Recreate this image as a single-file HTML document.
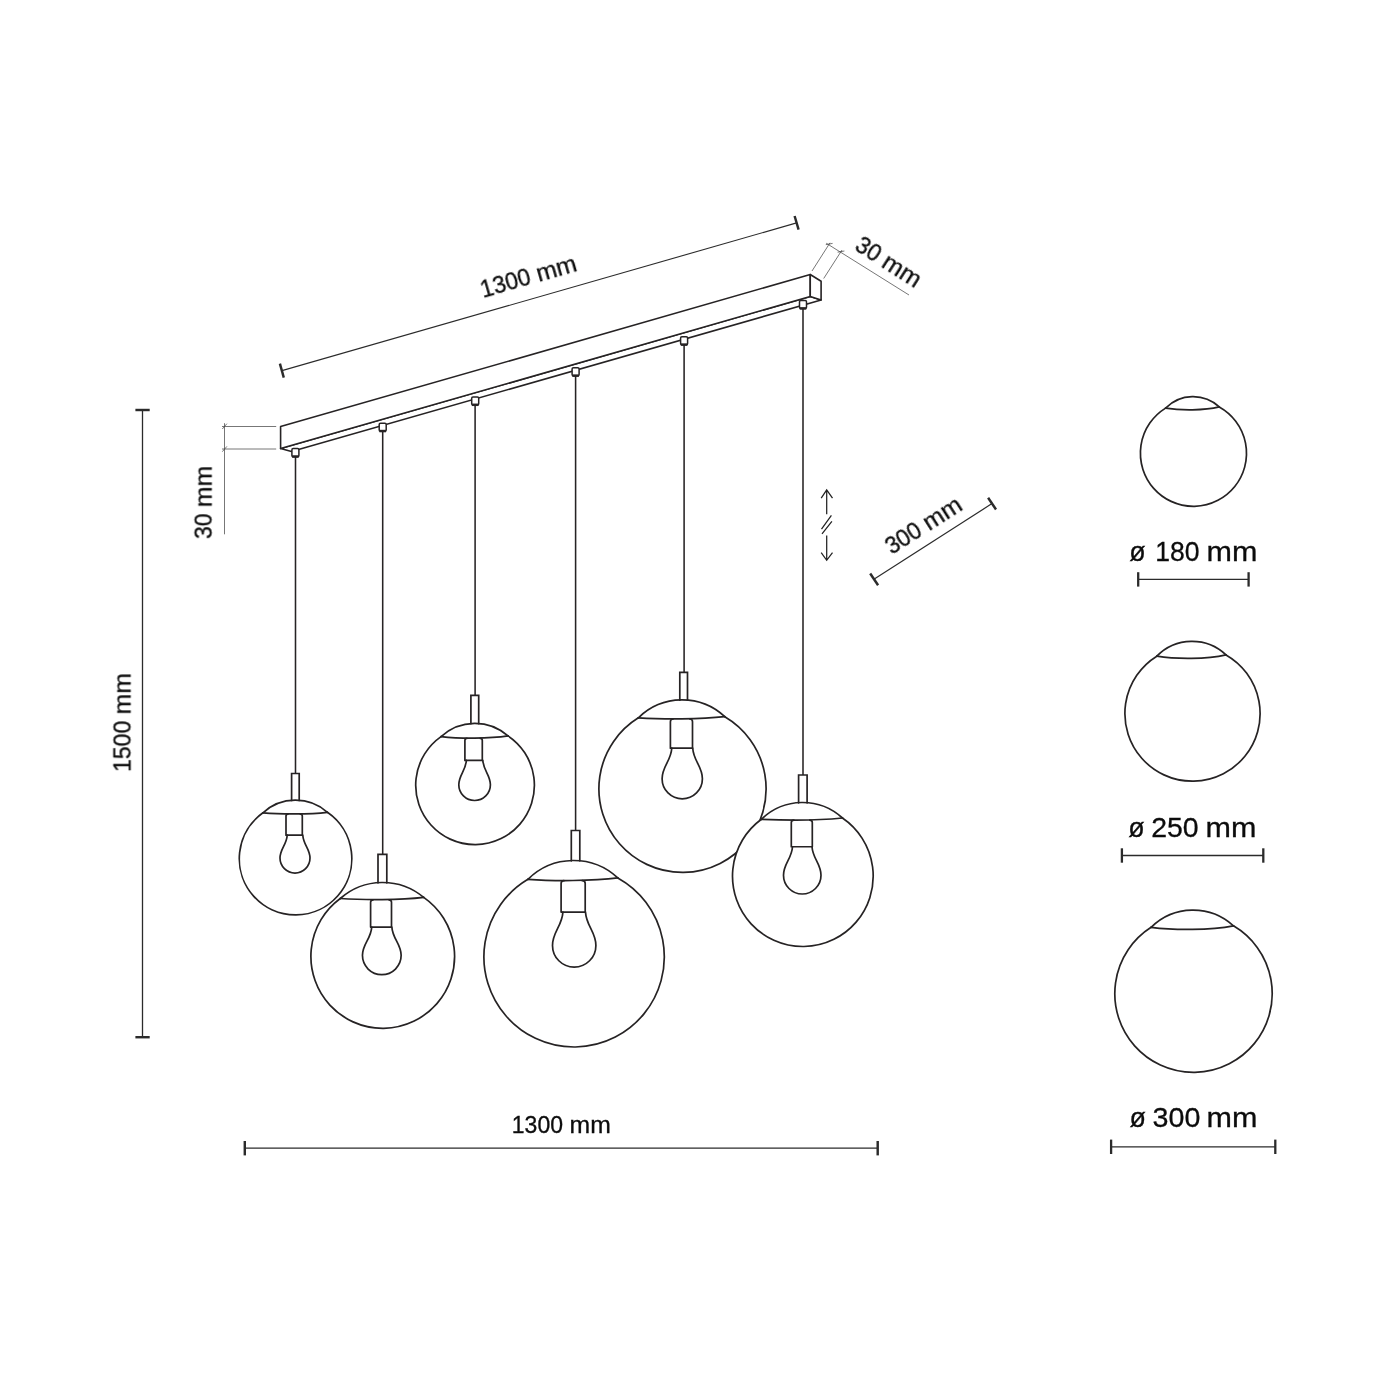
<!DOCTYPE html>
<html lang="en"><head><meta charset="utf-8"><title>Pendant lamp dimensions</title>
<style>
html,body{margin:0;padding:0;background:#fff}
svg{display:block}
text{font-family:"Liberation Sans",sans-serif;fill:#0a0a0a;stroke:#0a0a0a;stroke-width:.3px}
</style></head><body>
<svg width="1400" height="1400" viewBox="0 0 1400 1400">
<rect width="1400" height="1400" fill="#fff"/>

<g fill="none" stroke="#262324" stroke-width="1.55">
<line x1="295.5" y1="456" x2="295.5" y2="773.5"/>
<line x1="382.7" y1="431" x2="382.7" y2="854.4"/>
<line x1="475.1" y1="405" x2="475.1" y2="695.4"/>
<line x1="575.6" y1="376" x2="575.6" y2="830.5"/>
<line x1="684.1" y1="345" x2="684.1" y2="672.3"/>
<line x1="803.0" y1="309" x2="803.0" y2="775.0"/>
</g>
<g fill="#fff" stroke="#262324" stroke-width="1.6" stroke-linejoin="round" stroke-linecap="round">
<path d="M280.6,448.6 L291.5,451.5 L821.1,300 L810.25,296.5 Z"/>
<path d="M280.6,426.6 L810.25,274.5 L810.25,296.5 L280.6,448.6 Z"/>
<path d="M810.25,274.5 L821.1,281.25 L821.1,300 L810.25,296.5 Z"/>
</g>
<g fill="#fff" stroke="#262324" stroke-width="1.5">
<rect x="291.90" y="448.60" width="7.0" height="8.1" rx="1.3"/>
<line x1="292.10" y1="456.50" x2="298.70" y2="456.50" stroke-width="2.5" stroke-linecap="butt"/>
<rect x="379.20" y="423.15" width="7.0" height="8.1" rx="1.3"/>
<line x1="379.40" y1="431.05" x2="386.00" y2="431.05" stroke-width="2.5" stroke-linecap="butt"/>
<rect x="471.70" y="396.90" width="7.0" height="8.1" rx="1.3"/>
<line x1="471.90" y1="404.80" x2="478.50" y2="404.80" stroke-width="2.5" stroke-linecap="butt"/>
<rect x="572.10" y="367.73" width="7.0" height="8.1" rx="1.3"/>
<line x1="572.30" y1="375.63" x2="578.90" y2="375.63" stroke-width="2.5" stroke-linecap="butt"/>
<rect x="680.60" y="336.69" width="7.0" height="8.1" rx="1.3"/>
<line x1="680.80" y1="344.59" x2="687.40" y2="344.59" stroke-width="2.5" stroke-linecap="butt"/>
<rect x="799.50" y="300.50" width="7.0" height="8.1" rx="1.3"/>
<line x1="799.70" y1="308.40" x2="806.30" y2="308.40" stroke-width="2.5" stroke-linecap="butt"/>
</g>
<g fill="none" stroke="#262324" stroke-width="1.7" stroke-linecap="round" stroke-linejoin="round">
<path fill="#fff" d="M327.42,812.30 A56.25,56.25 0 1 1 262.96,812.80"/>
<path fill="#fff" d="M262.96,812.80 A48.23,48.23 0 0 1 327.42,812.30"/>
<path d="M262.96,812.80 C281.01,814.35 309.37,814.35 327.42,812.30"/>
<path d="M291.60,800.50 V773.50 H299.20 V800.50" stroke-linejoin="miter"/>
<path d="M286.00,835.20 V816.06 Q286.00,814.10 287.96,814.10 M300.34,814.10 Q302.30,814.10 302.30,816.06 V835.20 M286.00,835.20 H302.30"/>
<path d="M287.20,835.20 C286.60,844.82 280.00,848.94 280.00,858.10 A15.00,15.00 0 0 0 310.00,858.10 C310.00,848.94 303.40,844.82 302.80,835.20"/>
<path fill="#fff" d="M423.68,897.40 A71.85,71.85 0 1 1 340.27,898.50"/>
<path fill="#fff" d="M340.27,898.50 A64.01,64.01 0 0 1 423.68,897.40"/>
<path d="M340.27,898.50 C363.63,900.15 400.33,900.15 423.68,897.40"/>
<path d="M378.00,882.80 V854.40 H386.80 V882.80" stroke-linejoin="miter"/>
<path d="M370.60,927.10 V902.31 Q370.60,899.80 373.11,899.80 M388.99,899.80 Q391.50,899.80 391.50,902.31 V927.10 M370.60,927.10 H391.50"/>
<path d="M371.74,927.10 C370.96,938.97 362.45,944.05 362.45,955.35 A19.35,19.35 0 0 0 401.15,955.35 C401.15,944.05 392.64,938.97 391.86,927.10"/>
<path fill="#fff" d="M508.02,735.90 A59.35,59.35 0 1 1 441.06,736.60"/>
<path fill="#fff" d="M441.06,736.60 A49.76,49.76 0 0 1 508.02,735.90"/>
<path d="M441.06,736.60 C459.81,738.72 489.27,738.72 508.02,735.90"/>
<path d="M470.90,723.60 V695.40 H478.70 V723.60" stroke-linejoin="miter"/>
<path d="M464.90,760.40 V740.39 Q464.90,738.30 466.99,738.30 M480.21,738.30 Q482.30,738.30 482.30,740.39 V760.40 M464.90,760.40 H482.30"/>
<path d="M466.38,760.40 C465.75,770.61 458.80,774.98 458.80,784.70 A15.80,15.80 0 0 0 490.40,784.70 C490.40,774.98 483.45,770.61 482.82,760.40"/>
<path fill="#fff" d="M617.81,877.90 A90.20,90.20 0 1 1 527.95,879.30"/>
<path fill="#fff" d="M527.95,879.30 A64.82,64.82 0 0 1 617.81,877.90"/>
<path d="M527.95,879.30 C553.11,881.13 592.65,881.13 617.81,877.90"/>
<path d="M571.30,860.80 V830.50 H579.80 V860.80" stroke-linejoin="miter"/>
<path d="M561.10,912.10 V883.59 Q561.10,880.70 563.99,880.70 M582.31,880.70 Q585.20,880.70 585.20,883.59 V912.10 M561.10,912.10 H585.20"/>
<path d="M562.92,912.10 C562.05,926.09 552.50,932.08 552.50,945.40 A21.70,21.70 0 0 0 595.90,945.40 C595.90,932.08 586.35,926.09 585.48,912.10"/>
<path fill="#fff" d="M724.81,716.70 A83.60,83.60 0 1 1 638.36,717.80"/>
<path fill="#fff" d="M638.36,717.80 A62.52,62.52 0 0 1 724.81,716.70"/>
<path d="M638.36,717.80 C662.57,719.32 700.61,719.32 724.81,716.70"/>
<path d="M679.80,700.20 V672.30 H687.50 V700.20" stroke-linejoin="miter"/>
<path d="M670.40,748.20 V721.65 Q670.40,719.00 673.05,719.00 M689.85,719.00 Q692.50,719.00 692.50,721.65 V748.20 M670.40,748.20 H692.50"/>
<path d="M671.77,748.20 C670.97,760.99 662.10,766.47 662.10,778.65 A20.15,20.15 0 0 0 702.40,778.65 C702.40,766.47 693.53,760.99 692.73,748.20"/>
<path fill="#fff" d="M842.44,818.00 A70.35,70.35 0 1 1 761.41,819.30"/>
<path fill="#fff" d="M761.41,819.30 A58.90,58.90 0 0 1 842.44,818.00"/>
<path d="M761.41,819.30 C784.10,820.32 819.75,820.32 842.44,818.00"/>
<path d="M798.60,802.80 V775.00 H807.10 V802.80" stroke-linejoin="miter"/>
<path d="M791.30,846.75 V822.62 Q791.30,820.10 793.82,820.10 M809.78,820.10 Q812.30,820.10 812.30,822.62 V846.75 M791.30,846.75 H812.30"/>
<path d="M792.50,846.75 C791.75,858.72 783.50,863.85 783.50,875.25 A18.75,18.75 0 0 0 821.00,875.25 C821.00,863.85 812.75,858.72 812.00,846.75"/>
</g>
<g fill="none" stroke="#262324" stroke-width="1.7" stroke-linecap="round">
<path d="M1219.26,406.90 A53.05,53.05 0 1 1 1165.60,408.10"/>
<path d="M1165.60,408.10 A38.47,38.47 0 0 1 1219.26,406.90"/>
<path d="M1165.60,408.10 C1180.62,410.57 1204.23,410.57 1219.26,406.90"/>
<path d="M1226.03,654.90 A67.60,67.60 0 1 1 1156.79,656.20"/>
<path d="M1156.79,656.20 A49.42,49.42 0 0 1 1226.03,654.90"/>
<path d="M1156.79,656.20 C1176.18,659.35 1206.64,659.35 1226.03,654.90"/>
<path d="M1233.46,925.80 A78.70,78.70 0 1 1 1151.10,927.30"/>
<path d="M1151.10,927.30 A59.77,59.77 0 0 1 1233.46,925.80"/>
<path d="M1151.10,927.30 C1174.16,930.35 1210.40,930.35 1233.46,925.80"/>
</g>
<g fill="none" stroke="#2b2b2b" stroke-width="1.3">
<line x1="142.5" y1="410" x2="142.5" y2="1037.2"/>
<line x1="244.8" y1="1148.1" x2="877.7" y2="1148.1"/>
<line x1="282" y1="370.6" x2="796.6" y2="222.9" stroke-width="1.1"/>
<line x1="873.9" y1="579.2" x2="992" y2="503.6" stroke-width="1.2"/>
<line x1="1138.2" y1="579.4" x2="1248.6" y2="579.4"/>
<line x1="1121.9" y1="855.5" x2="1263.3" y2="855.5"/>
<line x1="1111.1" y1="1146.8" x2="1275.3" y2="1146.8"/>
</g>
<g fill="none" stroke="#2b2b2b" stroke-width="2.45">
<line x1="135.4" y1="410" x2="149.7" y2="410"/>
<line x1="135.4" y1="1037.2" x2="149.7" y2="1037.2"/>
<line x1="244.8" y1="1141" x2="244.8" y2="1155.4"/>
<line x1="877.7" y1="1141" x2="877.7" y2="1155.4"/>
<line x1="279.9" y1="363.7" x2="283.8" y2="377.6"/>
<line x1="794.6" y1="216.0" x2="798.6" y2="229.7"/>
<line x1="870.2" y1="573.5" x2="878.1" y2="585.2"/>
<line x1="988.1" y1="497.7" x2="996.0" y2="509.5"/>
<line x1="1138.2" y1="572.1999999999999" x2="1138.2" y2="586.6" stroke-width="2.3"/>
<line x1="1248.6" y1="572.1999999999999" x2="1248.6" y2="586.6" stroke-width="2.3"/>
<line x1="1121.9" y1="848.3" x2="1121.9" y2="862.7" stroke-width="2.3"/>
<line x1="1263.3" y1="848.3" x2="1263.3" y2="862.7" stroke-width="2.3"/>
<line x1="1111.1" y1="1139.6" x2="1111.1" y2="1154.0" stroke-width="2.3"/>
<line x1="1275.3" y1="1139.6" x2="1275.3" y2="1154.0" stroke-width="2.3"/>
</g>
<g fill="none" stroke="#4a4a4a" stroke-width="0.75">
<line x1="224.5" y1="423.2" x2="224.5" y2="534.3"/>
<line x1="222" y1="426.5" x2="276.2" y2="426.5"/>
<line x1="222" y1="449.0" x2="276.2" y2="449.0"/>
<line x1="222.3" y1="429.0" x2="226.9" y2="423.7"/>
<line x1="222.3" y1="451.7" x2="226.9" y2="446.4"/>
<line x1="826.2" y1="243.2" x2="909" y2="295"/>
<line x1="812" y1="271" x2="830" y2="242.8"/>
<line x1="823.7" y1="278.5" x2="842" y2="250"/>
<line x1="825.8" y1="244.6" x2="832.6" y2="243.4"/>
<line x1="837.6" y1="252.2" x2="844.4" y2="251.0"/>
</g>
<g fill="none" stroke="#222" stroke-width="1.25">
<path d="M826.7,514.2 V490.1 M821.2,498.2 L826.7,489.9 L832.5,498.2"/>
<path d="M826.7,535.4 V560.1 M821.2,552.7 L826.7,560.3 L832.5,552.7"/>
<path d="M821.5,529.1 L831.4,515.3 M822,533.9 L831.9,521.3"/>
</g>
<g opacity="0.99">
<text font-size="23.3" transform="translate(482.5,298.0) rotate(-16.0)" y="0"><tspan x="0.61" textLength="51.19" lengthAdjust="spacingAndGlyphs">1300</tspan> <tspan x="58.40" textLength="41.25" lengthAdjust="spacingAndGlyphs">mm</tspan></text>
<text font-size="23.3" transform="translate(130.5,772.2) rotate(-90)" y="0"><tspan x="0.19" textLength="51.26" lengthAdjust="spacingAndGlyphs">1500</tspan> <tspan x="57.80" textLength="41.25" lengthAdjust="spacingAndGlyphs">mm</tspan></text>
<text font-size="23.3" transform="translate(211.6,539.2) rotate(-90)" y="0"><tspan x="0.19" textLength="25.49" lengthAdjust="spacingAndGlyphs">30</tspan> <tspan x="32.10" textLength="41.25" lengthAdjust="spacingAndGlyphs">mm</tspan></text>
<text font-size="23.3" y="1133.4"><tspan x="511.81" textLength="51.19" lengthAdjust="spacingAndGlyphs">1300</tspan> <tspan x="569.60" textLength="41.25" lengthAdjust="spacingAndGlyphs">mm</tspan></text>
<text font-size="23.3" transform="translate(891.6,555.2) rotate(-32.6)" y="0"><tspan x="0.20" textLength="37.83" lengthAdjust="spacingAndGlyphs">300</tspan> <tspan x="44.60" textLength="41.25" lengthAdjust="spacingAndGlyphs">mm</tspan></text>
<text font-size="23.3" transform="translate(853.3,249.0) rotate(32.5)" y="0"><tspan x="0.19" textLength="25.49" lengthAdjust="spacingAndGlyphs">30</tspan> <tspan x="32.10" textLength="41.25" lengthAdjust="spacingAndGlyphs">mm</tspan></text>
<text font-size="28.5" y="560.7"><tspan x="1129.18" textLength="16.42" lengthAdjust="spacingAndGlyphs">ø</tspan> <tspan x="1155.19" textLength="44.32" lengthAdjust="spacingAndGlyphs">180</tspan> <tspan x="1206.61" textLength="50.87" lengthAdjust="spacingAndGlyphs">mm</tspan></text>
<text font-size="28.5" y="837.1"><tspan x="1128.28" textLength="16.42" lengthAdjust="spacingAndGlyphs">ø</tspan> <tspan x="1151.22" textLength="47.47" lengthAdjust="spacingAndGlyphs">250</tspan> <tspan x="1205.61" textLength="50.87" lengthAdjust="spacingAndGlyphs">mm</tspan></text>
<text font-size="28.5" y="1126.8"><tspan x="1129.58" textLength="16.42" lengthAdjust="spacingAndGlyphs">ø</tspan> <tspan x="1152.59" textLength="47.8" lengthAdjust="spacingAndGlyphs">300</tspan> <tspan x="1206.61" textLength="50.87" lengthAdjust="spacingAndGlyphs">mm</tspan></text>
</g>
</svg></body></html>
